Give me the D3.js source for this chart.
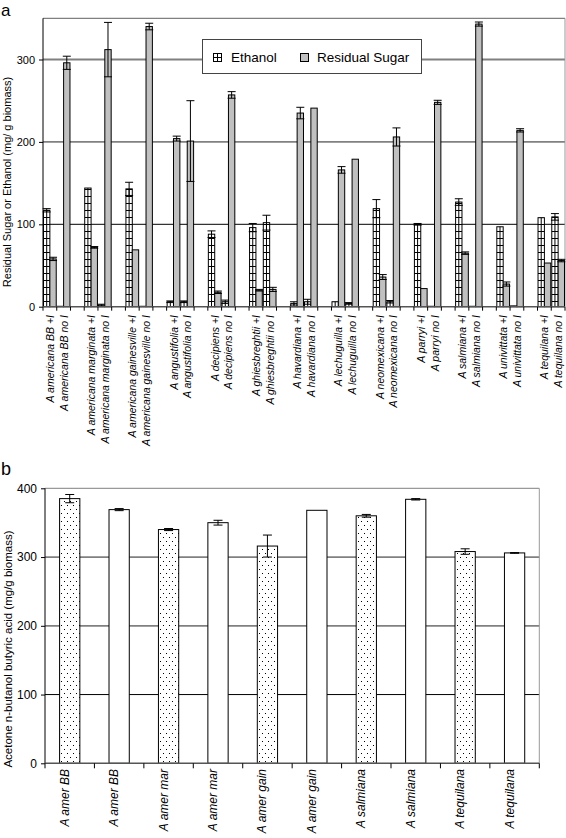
<!DOCTYPE html>
<html>
<head>
    <style>
        body {
            margin: 0;
            padding: 0;
            background: #fff;
        }
        svg text {
            font-family: "Liberation Sans", Arial, sans-serif;
        }
    </style>
    <script src="https://d3js.org/d3.v7.min.js"></script>
</head>
<body>
<svg id="fig" width="566" height="838"></svg>
<script>
    // panel a : ethanol and residual sugar, blank categories separate the species
    var labelsA = [
        "A americana BB +I", "A americana BB no I", "",
        "A americana marginata +I", "A americana marginata no I", "",
        "A americana gainesville +I", "A americana gainesville no I", "",
        "A angustifolia +I", "A angustifolia no I", "",
        "A decipiens +I", "A decipiens no I", "",
        "A ghiesbreghtii +I", "A ghiesbreghtii no I", "",
        "A havardiana +I", "A havardiana no I", "",
        "A lechuguilla +I", "A lechuguilla no I", "",
        "A neomexicana +I", "A neomexicana no I", "",
        "A parryi +I", "A parryi no I", "",
        "A salmiana +I", "A salmiana no I", "",
        "A univittata +I", "A univittata no I", "",
        "A tequilana +I", "A tequilana no I"
    ];
    var ethanol = [117, 0.5, null, 144, 2, null, 143, 0.5, null, 6, 6, null, 88, 6, null,
        96, 102, null, 4, 6, null, 6, 4, null, 119, 6, null, 100, 0.5, null,
        127, 0.5, null, 97, 1, null, 108, 109];
    var ethanolErr = [2, 0, null, 0, 1, null, 8, 0, null, 1, 1, null, 4, 2, null,
        5, 9, null, 2, 3, null, 0, 1, null, 11, 1.5, null, 1, 0, null,
        4, 0, null, 0, 0, null, 0, 4];
    var sugar = [58, 296, null, 72, 312, null, 69, 340, null, 204, 201, null, 17.5, 257, null,
        20, 21, null, 235, 241, null, 166, 179, null, 36, 206, null, 22, 248, null,
        65, 343, null, 27.5, 214, null, 53, 56];
    var sugarErr = [2, 8, null, 1, 33, null, 0, 4, null, 3, 49, null, 1.5, 4, null,
        1, 2.5, null, 7, 0, null, 4, 0, null, 3, 11, null, 0, 2.5, null,
        1.5, 2.5, null, 2.5, 2, null, 0, 1.5];
    var seriesA = ["Ethanol", "Residual Sugar"];
    var ticksA = [0, 100, 200, 300];

    // panel b : ABE yield
    var labelsB = ["A amer BB", "A amer BB", "A amer mar", "A amer mar", "A amer gain",
        "A amer gain", "A salmiana", "A salmiana", "A tequilana", "A tequilana"];
    var treatB = ["+I", "no I", "+I", "no I", "+I", "no I", "+I", "no I", "+I", "no I"];
    var abe = [385, 369, 340, 350, 316, 368, 360, 384, 308, 306];
    var abeErr = [6, 1.5, 1.5, 3.5, 16, 0, 2, 1, 4, 0.5];
    var ticksB = [0, 100, 200, 300, 400];

    var svg = d3.select("#fig");

    // fill patterns
    var defs = svg.append("defs");
    var ladder = defs.append("pattern").attr("id", "ladder")
        .attr("patternUnits", "userSpaceOnUse").attr("width", 8).attr("height", 7);
    ladder.append("rect").attr("width", 8).attr("height", 7).attr("fill", "#fff");
    ladder.append("line").attr("x1", 0).attr("x2", 8).attr("y1", 0.5).attr("y2", 0.5)
        .attr("stroke", "#000").attr("stroke-width", 1);
    var dots = defs.append("pattern").attr("id", "dots")
        .attr("patternUnits", "userSpaceOnUse").attr("width", 6).attr("height", 8);
    dots.append("rect").attr("width", 6).attr("height", 8).attr("fill", "#fff");
    dots.append("rect").attr("x", 1).attr("y", 1).attr("width", 1).attr("height", 1).attr("fill", "#000");
    dots.append("rect").attr("x", 4).attr("y", 5).attr("width", 1).attr("height", 1).attr("fill", "#000");

    function gridColor(v, top) {
        if (v === top) return "#999";
        if (v === 100) return "#000";
        return "#808080";
    }

    // ---------- panel a ----------
    var xA = d3.scaleBand().domain(d3.range(labelsA.length)).range([43, 565]);
    var subA = d3.scaleBand().domain(seriesA).range([0, xA.bandwidth()]).paddingOuter(0.08);
    var yA = d3.scaleLinear().domain([0, 350]).range([306.7, 18.3]);

    var gA = svg.append("g");
    gA.append("text").attr("x", 1).attr("y", 16).attr("font-size", 17).text("a");

    // grid + border
    [100, 200, 300].forEach(function(v) {
        gA.append("line").attr("x1", 43).attr("x2", 565).attr("y1", yA(v)).attr("y2", yA(v))
            .attr("stroke", gridColor(v, 350)).attr("stroke-width", v === 100 ? 1 : 1.8);
    });
    gA.append("line").attr("x1", 43).attr("x2", 565).attr("y1", yA(350)).attr("y2", yA(350))
        .attr("stroke", "#808080").attr("stroke-width", 1.2);
    gA.append("line").attr("x1", 565).attr("x2", 565).attr("y1", yA(350)).attr("y2", yA(0))
        .attr("stroke", "#999").attr("stroke-width", 1);

    // legend (sits over the 300 grid line)
    var leg = gA.append("g");
    leg.append("rect").attr("x", 202.5).attr("y", 39.5).attr("width", 219).attr("height", 34)
        .attr("fill", "#fff").attr("stroke", "#444");
    leg.append("rect").attr("x", 213.5).attr("y", 53.5).attr("width", 8).attr("height", 8)
        .attr("fill", "#fff").attr("stroke", "#000");
    leg.append("line").attr("x1", 217.5).attr("x2", 217.5).attr("y1", 53.5).attr("y2", 61.5).attr("stroke", "#000");
    leg.append("line").attr("x1", 213.5).attr("x2", 221.5).attr("y1", 57.5).attr("y2", 57.5).attr("stroke", "#000");
    leg.append("text").attr("x", 231).attr("y", 62).attr("font-size", 13.5).text(seriesA[0]);
    leg.append("rect").attr("x", 300.5).attr("y", 53.5).attr("width", 8).attr("height", 8)
        .attr("fill", "#c0c0c0").attr("stroke", "#000");
    leg.append("text").attr("x", 317).attr("y", 62).attr("font-size", 13.5).text(seriesA[1]);

    // bars
    var barsA = [];
    labelsA.forEach(function(lab, i) {
        if (ethanol[i] === null) return;
        barsA.push({i: i, s: seriesA[0], v: ethanol[i], e: ethanolErr[i]});
        barsA.push({i: i, s: seriesA[1], v: sugar[i], e: sugarErr[i]});
    });
    var bA = gA.selectAll(".barA").data(barsA).enter().append("g").attr("class", "barA");
    bA.append("rect")
        .attr("x", function(d) { return xA(d.i) + subA(d.s); })
        .attr("y", function(d) { return yA(d.v); })
        .attr("width", subA.bandwidth())
        .attr("height", function(d) { return yA(0) - yA(d.v); })
        .attr("fill", function(d) { return d.s === "Ethanol" ? "url(#ladder)" : "#c0c0c0"; })
        .attr("stroke", "#000").attr("stroke-width", 1);
    bA.filter(function(d) { return d.s === "Ethanol"; }).append("line")
        .attr("x1", function(d) { return xA(d.i) + subA(d.s) + subA.bandwidth() / 2; })
        .attr("x2", function(d) { return xA(d.i) + subA(d.s) + subA.bandwidth() / 2; })
        .attr("y1", function(d) { return yA(d.v); })
        .attr("y2", yA(0))
        .attr("stroke", "#000").attr("stroke-width", 1);
    var eA = bA.filter(function(d) { return d.e > 0; });
    eA.append("line")
        .attr("x1", function(d) { return xA(d.i) + subA(d.s) + subA.bandwidth() / 2; })
        .attr("x2", function(d) { return xA(d.i) + subA(d.s) + subA.bandwidth() / 2; })
        .attr("y1", function(d) { return yA(d.v + d.e); })
        .attr("y2", function(d) { return yA(d.v - d.e); })
        .attr("stroke", "#000");
    [1, -1].forEach(function(sg) {
        eA.append("line")
            .attr("x1", function(d) { return xA(d.i) + subA(d.s) + subA.bandwidth() / 2 - 4; })
            .attr("x2", function(d) { return xA(d.i) + subA(d.s) + subA.bandwidth() / 2 + 4; })
            .attr("y1", function(d) { return yA(d.v + sg * d.e); })
            .attr("y2", function(d) { return yA(d.v + sg * d.e); })
            .attr("stroke", "#000");
    });

    // axes
    gA.append("line").attr("x1", 43).attr("x2", 43).attr("y1", yA(350)).attr("y2", yA(0)).attr("stroke", "#000");
    gA.append("line").attr("x1", 43).attr("x2", 565).attr("y1", yA(0)).attr("y2", yA(0))
        .attr("stroke", "#555").attr("stroke-width", 1.5);
    gA.append("g").attr("transform", "translate(43,0)")
        .call(d3.axisLeft(yA).tickValues(ticksA).tickSize(4).tickSizeOuter(0))
        .call(function(g) {
            g.select(".domain").remove();
            g.selectAll("text").attr("font-size", 11).attr("font-family", "Liberation Sans, Arial, sans-serif").attr("dx", -1);
        });
    gA.selectAll(".tickA").data(d3.range(labelsA.length + 1)).enter().append("line")
        .attr("x1", function(i) { return i < labelsA.length ? xA(i) : xA.range()[1]; })
        .attr("x2", function(i) { return i < labelsA.length ? xA(i) : xA.range()[1]; })
        .attr("y1", yA(0)).attr("y2", yA(0) + 4).attr("stroke", "#000");
    gA.selectAll(".labA").data(labelsA).enter().append("text")
        .attr("transform", function(d, i) {
            return "translate(" + (xA(i) + xA.bandwidth() / 2 + 4) + "," + 315 + ") rotate(-90)";
        })
        .attr("text-anchor", "end").attr("font-size", 10.5).attr("font-style", "italic")
        .text(function(d) { return d; });
    gA.append("text")
        .attr("transform", "translate(11,182) rotate(-90)")
        .attr("text-anchor", "middle").attr("font-size", 11)
        .text("Residual Sugar or Ethanol (mg/ g biomass)");

    // ---------- panel b ----------
    var xB = d3.scaleBand().domain(d3.range(labelsB.length)).range([45, 539.3]);
    var yB = d3.scaleLinear().domain([0, 400]).range([763.3, 488.3]);
    var gB = svg.append("g");
    gB.append("text").attr("x", 1).attr("y", 475).attr("font-size", 18).text("b");

    [100, 200, 300, 400].forEach(function(v) {
        gB.append("line").attr("x1", 45).attr("x2", 539.3).attr("y1", yB(v)).attr("y2", yB(v))
            .attr("stroke", gridColor(v, 400)).attr("stroke-width", v === 100 ? 1 : (v === 400 ? 1.2 : 1.8));
    });
    gB.append("line").attr("x1", 539.3).attr("x2", 539.3).attr("y1", yB(400)).attr("y2", yB(0))
        .attr("stroke", "#999");

    var bw = xB.bandwidth() * 0.41;
    var bB = gB.selectAll(".barB").data(abe).enter().append("g");
    bB.append("rect")
        .attr("x", function(d, i) { return xB(i) + (xB.bandwidth() - bw) / 2; })
        .attr("y", function(d) { return yB(d); })
        .attr("width", bw)
        .attr("height", function(d) { return yB(0) - yB(d); })
        .attr("fill", function(d, i) { return treatB[i] === "+I" ? "url(#dots)" : "#fff"; })
        .attr("stroke", "#000");
    bB.each(function(d, i) {
        if (!(abeErr[i] > 0)) return;
        var g = d3.select(this), cx = xB(i) + xB.bandwidth() / 2;
        g.append("line").attr("x1", cx).attr("x2", cx)
            .attr("y1", yB(d + abeErr[i])).attr("y2", yB(d - abeErr[i])).attr("stroke", "#000");
        [1, -1].forEach(function(sg) {
            g.append("line").attr("x1", cx - 4.5).attr("x2", cx + 4.5)
                .attr("y1", yB(d + sg * abeErr[i])).attr("y2", yB(d + sg * abeErr[i])).attr("stroke", "#000");
        });
    });

    gB.append("line").attr("x1", 45).attr("x2", 45).attr("y1", yB(400)).attr("y2", yB(0)).attr("stroke", "#000");
    gB.append("line").attr("x1", 45).attr("x2", 539.3).attr("y1", yB(0)).attr("y2", yB(0))
        .attr("stroke", "#555").attr("stroke-width", 1.5);
    gB.append("g").attr("transform", "translate(45,0)")
        .call(d3.axisLeft(yB).tickValues(ticksB).tickSize(4).tickSizeOuter(0))
        .call(function(g) {
            g.select(".domain").remove();
            g.selectAll("text").attr("font-size", 12).attr("font-family", "Liberation Sans, Arial, sans-serif").attr("dx", -1);
        });
    gB.selectAll(".tickB").data(d3.range(labelsB.length + 1)).enter().append("line")
        .attr("x1", function(i) { return i < labelsB.length ? xB(i) : xB.range()[1]; })
        .attr("x2", function(i) { return i < labelsB.length ? xB(i) : xB.range()[1]; })
        .attr("y1", yB(0)).attr("y2", yB(0) + 5).attr("stroke", "#000");
    gB.selectAll(".labB").data(labelsB).enter().append("text")
        .attr("transform", function(d, i) {
            return "translate(" + (xB(i) + xB.bandwidth() / 2 - 1) + "," + 769 + ") rotate(-90)";
        })
        .attr("text-anchor", "end").attr("font-size", 12).attr("font-style", "italic")
        .text(function(d) { return d; });
    gB.append("text")
        .attr("transform", "translate(12,649) rotate(-90)")
        .attr("text-anchor", "middle").attr("font-size", 11.5)
        .text("Acetone n-butanol butyric acid (mg/g biomass)");
</script>
</body>
</html>
